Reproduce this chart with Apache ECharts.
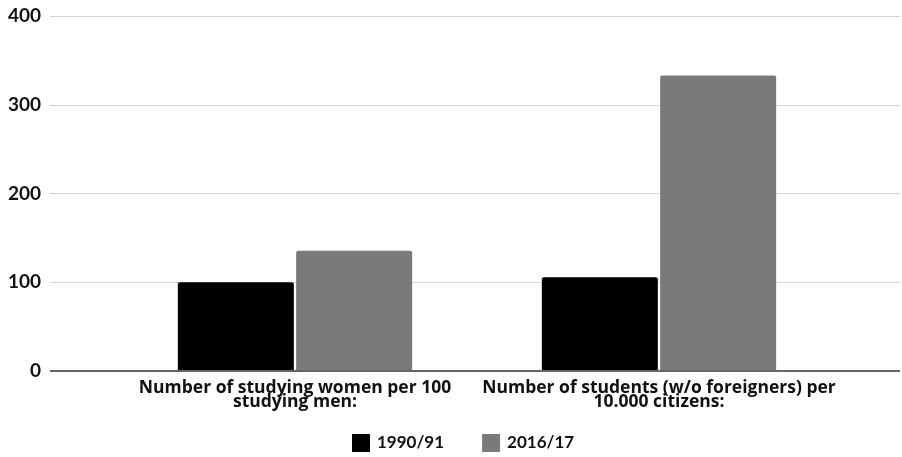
<!DOCTYPE html>
<html><head><meta charset="utf-8">
<script src="https://cdn.jsdelivr.net/npm/echarts@6/dist/echarts.min.js"></script>
<style>html,body{margin:0;padding:0;background:#fff}#c{width:902px;height:457px}</style>
</head><body><div id="c"></div>
<script>
const categories = ["Number of studying women per 100\nstudying men:", "Number of students (w/o foreigners) per\n10.000 citizens:"];
const seriesNames = ["1990/91", "2016/17"];
const values1990 = [100, 105.5];
const values2016 = [135.5, 333];
const yTicks = [0, 100, 200, 300, 400];

const font = 'Lato';
const chart = echarts.init(document.getElementById('c'), null, {renderer: 'canvas'});
chart.setOption({
  animation: false,
  backgroundColor: '#fff',
  grid: [
    {left: 50, right: 2, top: 16, bottom: 86},
    {left: 113, right: 61, top: 16, bottom: 86}
  ],
  legend: {
    bottom: 0, left: 347, itemWidth: 18, itemHeight: 18, itemGap: 38,
    icon: 'rect',
    textStyle: {fontFamily: font, fontWeight: 'bold', fontSize: 17, color: '#111', padding: [0,0,0,2]},
    data: seriesNames
  },
  xAxis: [
    {gridIndex: 0, type: 'value', show: false, min: 0, max: 1},
    {gridIndex: 1, type: 'category', data: categories,
     axisTick: {show: false}, axisLine: {show: false},
     axisLabel: {interval: 0, fontFamily: 'Open Sans', fontWeight: 'bold', fontSize: 17.5, color: '#111', lineHeight: 14, margin: 10}}
  ],
  yAxis: [
    {gridIndex: 0, type: 'value', min: yTicks[0], max: yTicks[yTicks.length-1], interval: 100,
     axisLine: {show: false}, axisTick: {show: false},
     splitLine: {lineStyle: {color: '#d4d4d4', width: 1}},
     axisLabel: {fontFamily: font, fontWeight: 'bold', fontSize: 19, color: '#111', margin: 9}},
    {gridIndex: 1, type: 'value', min: yTicks[0], max: yTicks[yTicks.length-1], interval: 100, show: false}
  ],
  series: [
    {name: seriesNames[0], type: 'bar', xAxisIndex: 1, yAxisIndex: 1, data: values1990,
     barWidth: 116, barGap: '2%', itemStyle: {color: '#000', borderRadius: [2,2,0,0]}},
    {name: seriesNames[1], type: 'bar', xAxisIndex: 1, yAxisIndex: 1, data: values2016,
     barWidth: 116, barGap: '2%', itemStyle: {color: '#7a7a7a', borderRadius: [2,2,0,0]}},
    {type: 'line', xAxisIndex: 0, yAxisIndex: 0, data: [[0,0],[1,0]], symbol: 'none', silent: true,
     lineStyle: {color: '#666', width: 2}, z: 5, legendHoverLink: false}
  ]
});
</script></body></html>
